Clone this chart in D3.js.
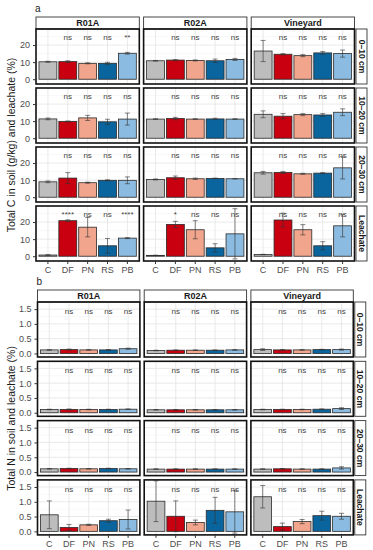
<!DOCTYPE html>
<html>
<head>
<meta charset="utf-8">
<script src="https://cdn.jsdelivr.net/npm/d3@7"></script>
<style>
  body { margin: 0; background: #fff; }
  svg { display: block; font-family: "Liberation Sans", Arial, sans-serif; }
</style>
</head>
<body>
<div id="chart"></div>
<script>
const treatments = ['C', 'DF', 'PN', 'RS', 'PB'];
const sites = ['R01A', 'R02A', 'Vineyard'];
const layers = ['0\u201310 cm', '10\u201320 cm', '20\u201330 cm', 'Leachate'];
const colors = ['#bdbdbd', '#c8000f', '#f0a58c', '#0a659e', '#8bbbe0'];

// total C: [layer][site][treatment]
const carbonMean = [
  [[10.2, 10.3, 9.3, 9.3, 15.2], [10.8, 11.2, 11.0, 10.8, 11.6], [16.5, 14.6, 13.8, 15.4, 15.0]],
  [[11.3, 9.8, 11.9, 9.6, 11.2], [11.2, 11.5, 11.2, 11.3, 11.2], [14.0, 12.9, 13.8, 13.6, 15.2]],
  [[9.0, 11.2, 8.5, 9.9, 9.9], [10.4, 11.4, 10.8, 11.0, 10.8], [14.3, 14.5, 13.7, 14.1, 17.2]],
  [[0.7, 20.8, 17.0, 6.1, 10.6], [0.5, 18.6, 15.5, 4.9, 13.1], [1.0, 21.2, 15.5, 6.1, 17.8]]
];
const carbonErr = [
  [[0.3, 0.5, 0.3, 0.6, 0.5], [0.2, 0.3, 0.3, 1.0, 0.6], [6.2, 0.4, 0.6, 0.8, 2.1]],
  [[0.5, 0.3, 1.5, 1.5, 3.5], [0.2, 0.7, 0.2, 0.4, 0.2], [2.0, 1.5, 0.6, 0.8, 2.0]],
  [[0.5, 3.2, 0.3, 0.3, 2.0], [0.3, 1.0, 0.4, 0.2, 0.1], [0.8, 0.6, 0.3, 0.3, 6.5]],
  [[0.2, 0.5, 5.7, 4.3, 0.3], [0.1, 1.8, 5.3, 2.4, 14.7], [0.1, 4.0, 3.0, 2.4, 6.5]]
];
const carbonSig = [
  [['', 'ns', 'ns', 'ns', '**'], ['', 'ns', 'ns', 'ns', 'ns'], ['', 'ns', 'ns', 'ns', 'ns']],
  [['', 'ns', 'ns', 'ns', 'ns'], ['', 'ns', 'ns', 'ns', 'ns'], ['', 'ns', 'ns', 'ns', 'ns']],
  [['', 'ns', 'ns', 'ns', 'ns'], ['', 'ns', 'ns', 'ns', 'ns'], ['', 'ns', 'ns', 'ns', 'ns']],
  [['', '****', 'ns', 'ns', '****'], ['', '*', 'ns', 'ns', 'ns'], ['', 'ns', 'ns', 'ns', 'ns']]
];

// total N: [layer][site][treatment]
const nitrogenMean = [
  [[0.12, 0.13, 0.12, 0.12, 0.16], [0.10, 0.11, 0.11, 0.11, 0.12], [0.13, 0.12, 0.12, 0.13, 0.13]],
  [[0.11, 0.11, 0.11, 0.11, 0.12], [0.10, 0.10, 0.10, 0.10, 0.10], [0.11, 0.11, 0.11, 0.12, 0.14]],
  [[0.11, 0.12, 0.11, 0.12, 0.11], [0.10, 0.10, 0.10, 0.10, 0.10], [0.10, 0.11, 0.10, 0.10, 0.14]],
  [[0.56, 0.13, 0.22, 0.36, 0.40], [1.02, 0.51, 0.30, 0.71, 0.66], [1.17, 0.16, 0.33, 0.53, 0.51]]
];
const nitrogenErr = [
  [[0.01, 0.02, 0.01, 0.01, 0.02], [0.01, 0.01, 0.01, 0.01, 0.01], [0.03, 0.01, 0.01, 0.01, 0.02]],
  [[0.01, 0.02, 0.01, 0.01, 0.01], [0.01, 0.01, 0.01, 0.01, 0.01], [0.01, 0.01, 0.01, 0.01, 0.03]],
  [[0.01, 0.01, 0.01, 0.01, 0.01], [0.01, 0.01, 0.01, 0.01, 0.01], [0.01, 0.01, 0.01, 0.01, 0.04]],
  [[0.47, 0.10, 0.02, 0.05, 0.32], [0.69, 0.52, 0.08, 0.44, 0.72], [0.38, 0.12, 0.07, 0.15, 0.10]]
];
const nitrogenSig = layers.map(() => sites.map(() => ['', 'ns', 'ns', 'ns', 'ns']));

const carbonTicks = [0, 10, 20];
const nitrogenTicks = [0, 0.5, 1.0, 1.5];

const svg = d3.select('#chart').append('svg')
  .attr('width', 373)
  .attr('height', 550);

function drawBlock(o) {
  const g = svg.append('g');
  const pw = o.panelW, gap = o.gap, rowH = o.rowH;

  g.append('text')
    .attr('x', o.left - 1).attr('y', o.tagY)
    .attr('font-size', 10).attr('fill', '#222')
    .text(o.tag);

  const x = d3.scaleBand().domain(treatments).range([0, pw])
    .paddingInner(0.1).paddingOuter(0.15);
  const y = d3.scaleLinear().domain(o.domain).range([rowH, 0]);
  const bw = x.bandwidth();

  // column strips
  sites.forEach((s, j) => {
    const sx = o.left + j * (pw + gap);
    g.append('rect')
      .attr('x', sx).attr('y', o.stripTop)
      .attr('width', pw).attr('height', o.stripH)
      .attr('fill', '#fff').attr('stroke', '#333').attr('stroke-width', 0.9);
    g.append('text')
      .attr('x', sx + pw / 2).attr('y', o.stripTop + o.stripH / 2 + 3.3)
      .attr('text-anchor', 'middle').attr('font-size', 9).attr('font-weight', 'bold')
      .attr('fill', '#1a1a1a')
      .text(s);
  });

  layers.forEach((layer, i) => {
    const top = o.rowTops[i];
    const rx = o.left + 3 * pw + 2 * gap + 1.5;
    g.append('rect')
      .attr('x', rx).attr('y', top)
      .attr('width', 11).attr('height', rowH)
      .attr('fill', '#fff').attr('stroke', '#333').attr('stroke-width', 0.9);
    g.append('text')
      .attr('transform', `translate(${rx + 5.5 - 3},${top + rowH / 2}) rotate(90)`)
      .attr('text-anchor', 'middle').attr('font-size', 8.5).attr('font-weight', 'bold')
      .attr('fill', '#1a1a1a')
      .text(layer);

    sites.forEach((s, j) => {
      const p = g.append('g')
        .attr('transform', `translate(${o.left + j * (pw + gap)},${top})`);
      const mean = o.mean[i][j], err = o.err[i][j], sig = o.sig[i][j];

      p.selectAll('.minor').data(o.minor).join('line')
        .attr('x1', 0).attr('x2', pw)
        .attr('y1', d => y(d)).attr('y2', d => y(d))
        .attr('stroke', '#f0f0f0').attr('stroke-width', 0.5);
      p.selectAll('.major').data(o.ticks).join('line')
        .attr('x1', 0).attr('x2', pw)
        .attr('y1', d => y(d)).attr('y2', d => y(d))
        .attr('stroke', '#e3e3e3').attr('stroke-width', 0.8);
      p.selectAll('.vgrid').data(treatments).join('line')
        .attr('x1', d => x(d) + bw / 2).attr('x2', d => x(d) + bw / 2)
        .attr('y1', 0).attr('y2', rowH)
        .attr('stroke', '#e3e3e3').attr('stroke-width', 0.8);

      p.selectAll('.bar').data(treatments).join('rect')
        .attr('x', d => x(d)).attr('width', bw)
        .attr('y', (d, k) => y(mean[k]))
        .attr('height', (d, k) => y(0) - y(mean[k]))
        .attr('fill', (d, k) => colors[k])
        .attr('stroke', '#2b2b2b').attr('stroke-width', 0.8);

      const eb = p.selectAll('.eb').data(treatments).join('g')
        .attr('stroke', '#333').attr('stroke-width', 0.6);
      eb.append('line')
        .attr('x1', d => x(d) + bw / 2).attr('x2', d => x(d) + bw / 2)
        .attr('y1', (d, k) => y(mean[k] + err[k])).attr('y2', (d, k) => y(mean[k] - err[k]));
      [1, -1].forEach(sgn => {
        eb.append('line')
          .attr('x1', d => x(d) + bw / 2 - 2.5).attr('x2', d => x(d) + bw / 2 + 2.5)
          .attr('y1', (d, k) => y(mean[k] + sgn * err[k]))
          .attr('y2', (d, k) => y(mean[k] + sgn * err[k]));
      });

      p.selectAll('.sig').data(treatments).join('text')
        .attr('x', d => x(d) + bw / 2).attr('y', y(o.sigY) + 3)
        .attr('text-anchor', 'middle').attr('font-size', 8).attr('fill', '#444')
        .text((d, k) => sig[k]);

      p.append('rect')
        .attr('width', pw).attr('height', rowH)
        .attr('fill', 'none').attr('stroke', '#111').attr('stroke-width', 1.6);

      if (j === 0) {
        const ax = p.append('g').call(d3.axisLeft(y).tickValues(o.ticks).tickSize(3).tickFormat(o.fmt));
        ax.select('.domain').remove();
        ax.selectAll('line').attr('stroke', '#333');
        ax.selectAll('text').attr('font-size', 9).attr('fill', '#4d4d4d')
          .attr('font-family', '"Liberation Sans", Arial, sans-serif');
      }
      if (i === layers.length - 1) {
        const ax = p.append('g').attr('transform', `translate(0,${rowH})`)
          .call(d3.axisBottom(x).tickSize(3));
        ax.select('.domain').remove();
        ax.selectAll('line').attr('stroke', '#333');
        ax.selectAll('text').attr('font-size', 9).attr('fill', '#4d4d4d')
          .attr('font-family', '"Liberation Sans", Arial, sans-serif');
      }
    });
  });

  const midY = (o.rowTops[0] + o.rowTops[3] + rowH) / 2;
  g.append('text')
    .attr('transform', `translate(15,${midY}) rotate(-90)`)
    .attr('text-anchor', 'middle').attr('font-size', 10.5).attr('fill', '#1a1a1a')
    .text(o.title);
}

drawBlock({
  tag: 'a', tagY: 12, left: 36, panelW: 103.3, gap: 4.3,
  stripTop: 17, stripH: 12, rowTops: [29, 88, 147, 206], rowH: 55,
  domain: [-2.8, 29.4], ticks: carbonTicks, minor: [5, 15, 25], fmt: d3.format('d'),
  mean: carbonMean, err: carbonErr, sig: carbonSig, sigY: 25,
  title: 'Total C in soil (g/kg) and leachate (%)'
});

drawBlock({
  tag: 'b', tagY: 285, left: 37.5, panelW: 102.4, gap: 4.3,
  stripTop: 290, stripH: 12, rowTops: [302, 361.3, 420.6, 479.9], rowH: 55,
  domain: [-0.12, 1.74], ticks: nitrogenTicks, minor: [0.25, 0.75, 1.25], fmt: d3.format('.1f'),
  mean: nitrogenMean, err: nitrogenErr, sig: nitrogenSig, sigY: 1.43,
  title: 'Total N in soil and leachate (%)'
});
</script>
</body>
</html>
